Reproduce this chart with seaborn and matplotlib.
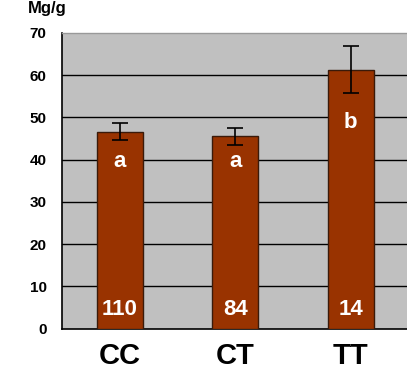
import matplotlib
matplotlib.use("Agg")
import matplotlib.pyplot as plt
import seaborn as sns
import pandas as pd
import numpy as np

genotypes = ["CC", "CT", "TT"]
means = [46.6, 45.5, 61.3]
errors = [2.0, 2.0, 5.6]
letters = ["a", "a", "b"]
counts = ["110", "84", "14"]
y_ticks = [0, 10, 20, 30, 40, 50, 60, 70]
unit_label = "Mg/g"

sns.set_theme(style="white")
plt.rcParams['font.family'] = ['Liberation Sans', 'DejaVu Sans']
plt.rcParams['text.color'] = 'black'
plt.rcParams['xtick.color'] = 'black'
plt.rcParams['ytick.color'] = 'black'

df = pd.DataFrame({"genotype": genotypes, "value": means})

fig = plt.figure(figsize=(4.07, 3.73), dpi=100)
ax = fig.add_axes([62/407, 44.5/373, 346.5/407, 295.7/373])
ax.set_facecolor("#C0C0C0")

sns.barplot(data=df, x="genotype", y="value", color="#993300", saturation=1,
            width=0.4, edgecolor="#3a1a0a", linewidth=1.0, ax=ax, zorder=3)

ax.errorbar(np.arange(len(genotypes)), means, yerr=errors, fmt="none",
            ecolor="black", elinewidth=1.2, capsize=5.5, capthick=1.2, zorder=4)

for i, (m, l, c) in enumerate(zip(means, letters, counts)):
    ly = 39.5 if l == "a" else 48.7
    ax.text(i, ly, l, ha="center", va="center", color="white",
            fontsize=16, fontweight="bold", zorder=5)
    ax.text(i, 4.4, c, ha="center", va="center", color="white",
            fontsize=16, fontweight="bold", zorder=5)

ax.set_ylim(0, 70)
ax.set_xlim(-0.5, 2.5)
ax.set_yticks(y_ticks)
ax.set_yticklabels([str(t) for t in y_ticks], fontsize=11, fontweight="bold")
for y in y_ticks[1:-1]:
    ax.axhline(y, color="black", linewidth=1.0, zorder=1)

ax.set_xticks(range(len(genotypes)))
ax.set_xticklabels(genotypes, fontsize=21, fontweight="bold")
ax.tick_params(axis="x", length=0, pad=9.5)
ax.tick_params(axis="y", length=0, pad=11)
ax.set_xticks([0.5, 1.5], minor=True)
ax.tick_params(axis="x", which="minor", direction="in", length=4, width=1, color="#333333")

ax.set_xlabel("")
ax.set_ylabel("")
for s in ["left", "bottom"]:
    ax.spines[s].set_color("black")
    ax.spines[s].set_linewidth(1.2)
ax.spines["top"].set_color("#999999")
ax.spines["top"].set_linewidth(1.0)
ax.spines["right"].set_visible(False)

fig.text(28/407, 1 - 9/373, unit_label, ha="left", va="center",
         fontsize=12, fontweight="bold")

fig.savefig("out.png", dpi=100)
